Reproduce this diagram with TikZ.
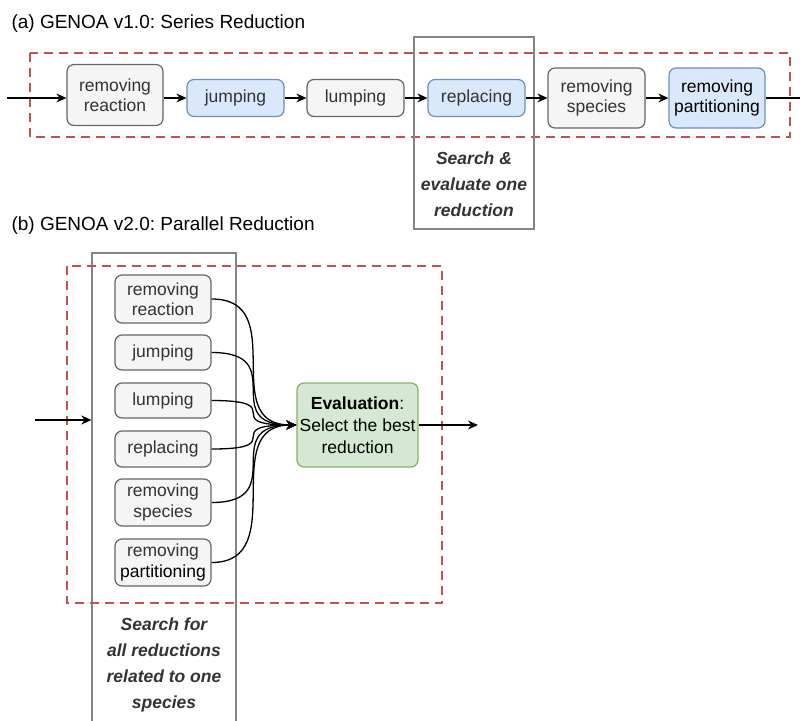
\documentclass[tikz,border=0pt]{standalone}
\usepackage{fontspec}
\setmainfont{Liberation Sans}
\usetikzlibrary{arrows.meta}
\frenchspacing

\definecolor{grayfill}{HTML}{F5F5F5}
\definecolor{grayline}{HTML}{666666}
\definecolor{bluefill}{HTML}{DAE8FC}
\definecolor{blueline}{HTML}{6C8EBF}
\definecolor{greenfill}{HTML}{D5E8D4}
\definecolor{greenline}{HTML}{82B366}
\definecolor{redline}{HTML}{C8504B}
\definecolor{framegray}{HTML}{858585}
\definecolor{txt}{HTML}{333333}

\tikzset{
  box/.style={draw, rounded corners=7pt, line width=1.2pt, align=center, text=txt, inner sep=0pt,
    font=\fontsize{17.5}{20.5}\selectfont},
  grayb/.style={box, fill=grayfill, draw=grayline},
  blueb/.style={box, fill=bluefill, draw=blueline},
  greenb/.style={box, fill=greenfill, draw=greenline},
  frame/.style={draw=framegray, line width=1.3pt, inner sep=0pt},
  reddash/.style={draw=redline, line width=2.5pt, dash pattern=on 9pt off 6pt},
  flow/.style={line width=1.3pt, black},
  note/.style={align=center, text=txt, font=\fontsize{17.5}{26}\selectfont\bfseries\itshape},
  title/.style={anchor=base west, font=\fontsize{19}{22}\selectfont}
}

\begin{document}
\begin{tikzpicture}[x=1pt, y=-1pt, >={Stealth[length=10pt,width=9pt]}]
\useasboundingbox (0,0) rectangle (802,720);

% (a) series reduction
\node[title] (ta) at (8,28) {(a) GENOA v1.0: Series Reduction};
\draw[reddash] (30,53) rectangle (790,137);
\node[frame, minimum width=120pt, minimum height=192pt] (sr1) at (474,133) {};
\node[grayb, minimum width=96pt, minimum height=61pt] (rr1) at (115,95) {removing\\reaction};
\node[blueb, minimum width=97pt, minimum height=37pt] (jp1) at (235.5,98) {jumping};
\node[grayb, minimum width=97pt, minimum height=37pt] (lp1) at (355.5,98) {lumping};
\node[blueb, minimum width=97pt, minimum height=37pt] (rp1) at (476.5,98) {replacing};
\node[grayb, minimum width=97pt, minimum height=60pt] (rs1) at (596.5,98) {removing\\species};
\node[blueb, minimum width=96pt, minimum height=60pt, text=black] (pt1) at (717,98) {removing\\partitioning};
\node[note] (sl1) at (474,184) {Search \&\\evaluate one\\reduction};

\coordinate (in1) at (7,98);
\coordinate (out1) at (800,98);
\draw[flow, ->] (in1) -- (in1 -| rr1.west);
\draw[flow, ->] (rr1.east |- jp1.west) -- (jp1.west);
\draw[flow, ->] (jp1) -- (lp1);
\draw[flow, ->] (lp1) -- (rp1);
\draw[flow, ->] (rp1) -- (rs1);
\draw[flow, ->] (rs1) -- (pt1);
\draw[flow] (pt1.east) -- (out1);

% (b) parallel reduction
\node[title] (tb) at (8,230) {(b) GENOA v2.0: Parallel Reduction};
\node[frame, minimum width=144pt, minimum height=470pt] (sr2) at (164,488) {};
\draw[reddash] (67,266) rectangle (442,603);
\node[grayb, minimum width=96pt, minimum height=48pt] (b1) at (163,299) {removing\\reaction};
\node[grayb, minimum width=96pt, minimum height=35pt] (b2) at (163,352.5) {jumping};
\node[grayb, minimum width=96pt, minimum height=35pt] (b3) at (163,400.5) {lumping};
\node[grayb, minimum width=96pt, minimum height=36pt] (b4) at (163,449) {replacing};
\node[grayb, minimum width=96pt, minimum height=47pt] (b5) at (163,502.5) {removing\\species};
\node[grayb, minimum width=96pt, minimum height=47pt] (b6) at (163,562.5) {removing\\\textcolor{black}{partitioning}};
\node[greenb, minimum width=121pt, minimum height=84pt, text=black,
  font=\fontsize{17.5}{22}\selectfont] (ev) at (357.5,425) {\textbf{Evaluation}:\\Select the best\\reduction};
\node[note] (sl2) at (164,665) {Search for\\all reductions\\related to one\\species};

\foreach \n in {1,...,6}
  \draw[flow, ->] (b\n.east) .. controls +(80,0) and +(-80,0) .. (ev.west);
\coordinate (in2) at (35,420);
\coordinate (out2) at (478,425);
\draw[flow, ->] (in2) -- (in2 -| sr2.west);
\draw[flow, ->] (ev.east) -- (out2);
\end{tikzpicture}
\end{document}
